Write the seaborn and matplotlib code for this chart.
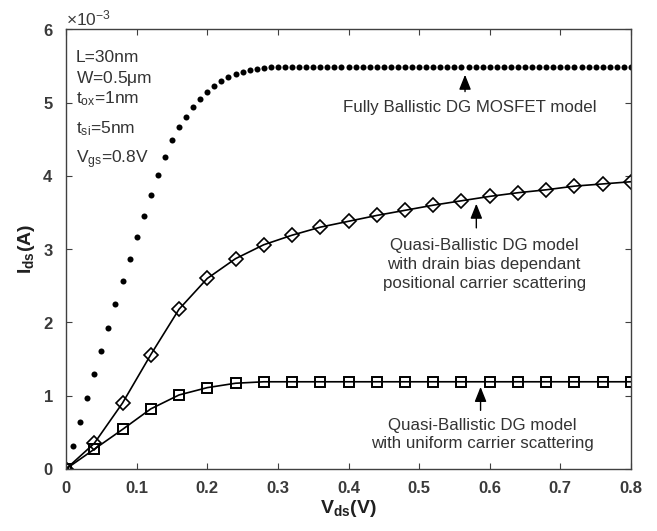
import numpy as np
import pandas as pd
import matplotlib
matplotlib.use("Agg")
import matplotlib.pyplot as plt
import matplotlib.ticker as mticker
import seaborn as sns

# ---- data (currents in units of 1e-3 A) ----
vds_ballistic = [0.00, 0.01, 0.02, 0.03, 0.04, 0.05, 0.06, 0.07, 0.08, 0.09,
                 0.10, 0.11, 0.12, 0.13, 0.14, 0.15, 0.16, 0.17, 0.18, 0.19,
                 0.20, 0.21, 0.22, 0.23, 0.24, 0.25, 0.26, 0.27, 0.28, 0.29,
                 0.30, 0.31, 0.32, 0.33, 0.34, 0.35, 0.36, 0.37, 0.38, 0.39,
                 0.40, 0.41, 0.42, 0.43, 0.44, 0.45, 0.46, 0.47, 0.48, 0.49,
                 0.50, 0.51, 0.52, 0.53, 0.54, 0.55, 0.56, 0.57, 0.58, 0.59,
                 0.60, 0.61, 0.62, 0.63, 0.64, 0.65, 0.66, 0.67, 0.68, 0.69,
                 0.70, 0.71, 0.72, 0.73, 0.74, 0.75, 0.76, 0.77, 0.78, 0.79,
                 0.80]
ids_ballistic = [0.00, 0.32, 0.645, 0.965, 1.29, 1.61, 1.93, 2.25, 2.56, 2.87,
                 3.17, 3.45, 3.74, 4.01, 4.26, 4.49, 4.67, 4.81, 4.94, 5.05,
                 5.14, 5.23, 5.30, 5.35, 5.39, 5.42, 5.44, 5.46, 5.47, 5.48,
                 5.48, 5.48, 5.48, 5.48, 5.48, 5.48, 5.48, 5.48, 5.48, 5.48,
                 5.48, 5.48, 5.48, 5.48, 5.48, 5.48, 5.48, 5.48, 5.48, 5.48,
                 5.48, 5.48, 5.48, 5.48, 5.48, 5.48, 5.48, 5.48, 5.48, 5.48,
                 5.48, 5.48, 5.48, 5.48, 5.48, 5.48, 5.48, 5.48, 5.48, 5.48,
                 5.48, 5.48, 5.48, 5.48, 5.48, 5.48, 5.48, 5.48, 5.48, 5.48,
                 5.48]

vds_quasi = [0.00, 0.04, 0.08, 0.12, 0.16, 0.20, 0.24, 0.28, 0.32, 0.36, 0.40,
             0.44, 0.48, 0.52, 0.56, 0.60, 0.64, 0.68, 0.72, 0.76, 0.80]
ids_drain_bias = [0.00, 0.35, 0.90, 1.56, 2.18, 2.60, 2.87, 3.06, 3.19, 3.30, 3.38,
                  3.46, 3.53, 3.60, 3.66, 3.72, 3.77, 3.81, 3.86, 3.89, 3.92]
ids_uniform = [0.00, 0.27, 0.54, 0.82, 1.01, 1.11, 1.17, 1.19, 1.19, 1.19, 1.19,
               1.19, 1.19, 1.19, 1.19, 1.19, 1.19, 1.19, 1.19, 1.19, 1.19]

x_ticks = [0, 0.1, 0.2, 0.3, 0.4, 0.5, 0.6, 0.7, 0.8]
y_ticks = [0, 1, 2, 3, 4, 5, 6]
params = ["L=30nm", r"W=0.5$\mathregular{\mu}$m", r"t$_\mathregular{ox}$=1nm",
          r"t$_\mathregular{si}$=5nm", r"V$_\mathregular{gs}$=0.8V"]

df_b = pd.DataFrame({"Vds": vds_ballistic, "Ids": np.array(ids_ballistic) * 1e-3})
df_d = pd.DataFrame({"Vds": vds_quasi, "Ids": np.array(ids_drain_bias) * 1e-3})
df_u = pd.DataFrame({"Vds": vds_quasi, "Ids": np.array(ids_uniform) * 1e-3})

sns.set_style("ticks")
plt.rcParams["font.family"] = ["Liberation Sans", "DejaVu Sans"]
plt.rcParams["mathtext.fontset"] = "custom"
plt.rcParams["mathtext.rm"] = "Liberation Sans"
plt.rcParams["mathtext.it"] = "Liberation Sans"
plt.rcParams["mathtext.bf"] = "Liberation Sans:bold"

fig = plt.figure(figsize=(6.57, 5.31), dpi=100)
ax = fig.add_axes([0.1005, 0.1168, 0.8599, 0.8280])

sns.scatterplot(data=df_b, x="Vds", y="Ids", ax=ax, color="black", s=19,
                marker="o", edgecolor="black", linewidth=0, legend=False)
sns.lineplot(data=df_d, x="Vds", y="Ids", ax=ax, color="black", lw=1.2,
             marker="D", markersize=7.5, markerfacecolor="none",
             markeredgecolor="black", markeredgewidth=1.2, legend=False)
sns.lineplot(data=df_u, x="Vds", y="Ids", ax=ax, color="black", lw=1.2,
             marker="s", markersize=7, markerfacecolor="none",
             markeredgecolor="black", markeredgewidth=1.4, legend=False)

ax.set_xlim(0, 0.8)
ax.set_ylim(0, 6e-3)
ax.set_xticks(x_ticks)
ax.set_xticklabels([("%g" % t) for t in x_ticks])
ax.set_yticks(np.array(y_ticks) * 1e-3)
fmt = mticker.ScalarFormatter(useMathText=True)
fmt.set_powerlimits((-3, -3))
ax.yaxis.set_major_formatter(fmt)

tick_col = "#3a3a3a"
for sp in ax.spines.values():
    sp.set_visible(True)
    sp.set_color("#404040")
    sp.set_linewidth(1.0)
ax.tick_params(direction="in", length=4, width=0.8, color="#404040",
               top=True, right=True, labelsize=12, labelcolor=tick_col)
ax.tick_params(axis="x", pad=9)
ax.tick_params(axis="y", pad=9)
for lab in ax.get_xticklabels() + ax.get_yticklabels():
    lab.set_fontweight("bold")
ax.yaxis.get_offset_text().set_fontsize(12.5)
ax.yaxis.get_offset_text().set_color(tick_col)

ax.set_xlabel(r"V$_\mathbf{ds}$(V)", fontsize=14, fontweight="bold",
              color="#202020", labelpad=1)
ax.set_ylabel(r"I$_\mathbf{ds}$(A)", fontsize=14, fontweight="bold",
              color="#202020", labelpad=4)

txt_col = "#333333"
ypos = [0.9264, 0.8772, 0.8317, 0.7634, 0.6952]
for t, yy in zip(params, ypos):
    ax.text(0.0177, yy, t, transform=ax.transAxes, fontsize=12.5, color=txt_col,
            ha="left", va="baseline")

arrow_kw = dict(arrowstyle="-|>,head_length=0.75,head_width=0.3", color="black",
                lw=1.0, shrinkA=0, shrinkB=0, mutation_scale=12)
ax.annotate("", xy=(0.565, 5.38e-3), xytext=(0.565, 5.15e-3), arrowprops=arrow_kw)
ax.text(0.571, 4.93e-3, "Fully Ballistic DG MOSFET model", fontsize=12.2,
        color=txt_col, ha="center", va="center")

ax.annotate("", xy=(0.581, 3.62e-3), xytext=(0.581, 3.29e-3), arrowprops=arrow_kw)
ax.text(0.592, 2.79e-3,
        "Quasi-Ballistic DG model\nwith drain bias dependant\npositional carrier scattering",
        fontsize=12.2, color=txt_col, ha="center", va="center", linespacing=1.3)

ax.annotate("", xy=(0.587, 1.12e-3), xytext=(0.587, 0.80e-3), arrowprops=arrow_kw)
ax.text(0.589, 0.47e-3, "Quasi-Ballistic DG model\nwith uniform carrier scattering",
        fontsize=12.2, color=txt_col, ha="center", va="center", linespacing=1.3)

fig.savefig("out.png", dpi=100, facecolor="white")
